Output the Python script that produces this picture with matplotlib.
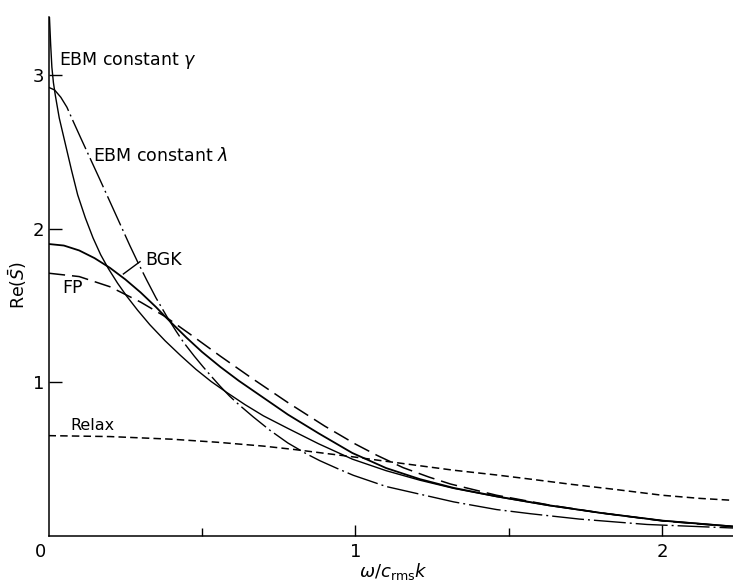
import matplotlib
matplotlib.use("Agg")
import matplotlib.pyplot as plt

plt.rcParams['font.family'] = ['DejaVu Sans']
plt.rcParams['mathtext.fontset'] = 'dejavusans'
plt.rcParams['lines.scale_dashes'] = False

# Re(S) against reduced frequency for each kinetic model
x_gamma = [0.003, 0.007, 0.011, 0.016, 0.022, 0.035, 0.055, 0.075, 0.095, 0.12,
           0.145, 0.17, 0.195, 0.225, 0.255, 0.29, 0.33, 0.38, 0.43, 0.48,
           0.53, 0.58, 0.64, 0.70, 0.78, 0.88, 0.99, 1.10, 1.21, 1.32,
           1.46, 1.63, 1.80, 2.00, 2.23]
y_gamma = [3.38, 3.20, 3.05, 2.95, 2.87, 2.72, 2.55, 2.38, 2.22, 2.07,
           1.94, 1.83, 1.74, 1.645, 1.56, 1.47, 1.375, 1.27, 1.175, 1.085,
           1.005, 0.935, 0.855, 0.782, 0.700, 0.600, 0.500, 0.425, 0.363, 0.310,
           0.256, 0.198, 0.150, 0.100, 0.063]

x_lambda = [0.0, 0.02, 0.04, 0.06, 0.08, 0.105, 0.135, 0.165, 0.19, 0.215,
            0.24, 0.265, 0.29, 0.32, 0.35, 0.385, 0.415, 0.44, 0.475, 0.504,
            0.53, 0.559, 0.59, 0.62, 0.667, 0.72, 0.78, 0.84, 0.884, 0.94,
            0.993, 1.10, 1.21, 1.32, 1.46, 1.57, 1.73, 1.95, 2.23]
y_lambda = [2.92, 2.902, 2.855, 2.79, 2.70, 2.59, 2.46, 2.33, 2.22, 2.11,
            2.00, 1.89, 1.785, 1.665, 1.55, 1.43, 1.335, 1.26, 1.17, 1.10,
            1.04, 0.975, 0.91, 0.855, 0.775, 0.69, 0.605, 0.535, 0.49, 0.44,
            0.395, 0.322, 0.272, 0.222, 0.172, 0.145, 0.11, 0.075, 0.052]

x_bgk = [0.0, 0.05, 0.10, 0.15, 0.20, 0.25, 0.30, 0.35, 0.38, 0.40,
         0.45, 0.50, 0.56, 0.62, 0.70, 0.78, 0.88, 0.99, 1.10, 1.21,
         1.32, 1.46, 1.63, 1.80, 2.00, 2.23]
y_bgk = [1.900, 1.890, 1.858, 1.808, 1.745, 1.670, 1.585, 1.490, 1.428, 1.388,
         1.290, 1.198, 1.100, 1.010, 0.900, 0.790, 0.668, 0.540, 0.442, 0.370,
         0.313, 0.258, 0.200, 0.150, 0.100, 0.062]

x_fp = [0.0, 0.10, 0.20, 0.30, 0.38, 0.46, 0.56, 0.66, 0.78, 0.90,
        1.00, 1.07, 1.155, 1.24, 1.31, 1.46, 1.63, 1.80, 2.00, 2.23]
y_fp = [1.710, 1.688, 1.622, 1.522, 1.428, 1.315, 1.170, 1.030, 0.868, 0.715,
        0.598, 0.525, 0.445, 0.383, 0.338, 0.265, 0.202, 0.150, 0.098, 0.060]

x_relax = [0.0, 0.2, 0.4, 0.55, 0.70, 0.80, 0.90, 1.00, 1.10, 1.21,
           1.32, 1.46, 1.57, 1.70, 1.85, 2.00, 2.12, 2.23]
y_relax = [0.653, 0.647, 0.630, 0.610, 0.585, 0.563, 0.538, 0.513, 0.486, 0.457,
           0.428, 0.397, 0.370, 0.337, 0.302, 0.265, 0.245, 0.232]

x_ticks = [1, 2]
x_tick_labels = ['1', '2']
y_ticks = [1, 2, 3]
y_tick_labels = ['1', '2', '3']
x_minor = [0.5, 1.5]

fig = plt.figure(figsize=(7.33, 5.83), dpi=100)
ax = fig.add_axes([48.5 / 733, 47 / 583, (733 - 48.5) / 733, (536 - 17) / 583])

ax.plot(x_gamma, y_gamma, color='black', lw=1.0, solid_capstyle='butt')
ax.plot(x_lambda, y_lambda, color='black', lw=1.0,
        dashes=(23, 2.9, 1.4, 2.9))
ax.plot(x_bgk, y_bgk, color='black', lw=1.3)
ax.plot(x_fp, y_fp, color='black', lw=1.1, dashes=(12, 5))
ax.plot(x_relax, y_relax, color='black', lw=1.1, dashes=(5.4, 3))

ax.set_xlim(0, 2.23)
ax.set_ylim(0, 3.377)
for side in ('top', 'right'):
    ax.spines[side].set_visible(False)
for side in ('left', 'bottom'):
    ax.spines[side].set_linewidth(1.1)

ax.set_xticks(x_ticks)
ax.set_xticklabels(x_tick_labels)
ax.set_xticks(x_minor, minor=True)
ax.set_yticks(y_ticks)
ax.set_yticklabels(y_tick_labels)
ax.tick_params(axis='x', which='major', direction='in', length=8, width=1.0,
               pad=5, labelsize=13)
ax.tick_params(axis='x', which='minor', direction='in', length=6, width=1.0)
ax.tick_params(axis='y', which='major', direction='in', length=9, width=1.0,
               pad=3, labelsize=13)
# shared origin label
ax.annotate('0', xy=(0, 0), xycoords='data', xytext=(-6, -5),
            textcoords='offset points', ha='center', va='top', fontsize=13)

ax.text(0.034, 3.064, r'EBM constant $\gamma$', fontsize=12.5, ha='left',
        va='baseline')
ax.text(0.144, 2.44, r'EBM constant $\lambda$', fontsize=12.5, ha='left',
        va='baseline')
ax.text(0.314, 1.763, 'BGK', fontsize=12.5, ha='left', va='baseline')
ax.plot([0.244, 0.298], [1.705, 1.785], color='black', lw=1.0)
ax.text(0.044, 1.58, 'FP', fontsize=12.5, ha='left', va='baseline')
ax.text(0.07, 0.69, 'Relax', fontsize=11.5, ha='left', va='baseline')

fig.text(18 / 733, 1 - 285 / 583, r'Re$(\bar{S})$', rotation=90,
         ha='center', va='center', fontsize=12.5)
fig.text(393 / 733, 1 - 577 / 583, r'$\omega/c_{\mathrm{rms}}k$',
         ha='center', va='baseline', fontsize=13)

fig.savefig('out.png', dpi=100)
